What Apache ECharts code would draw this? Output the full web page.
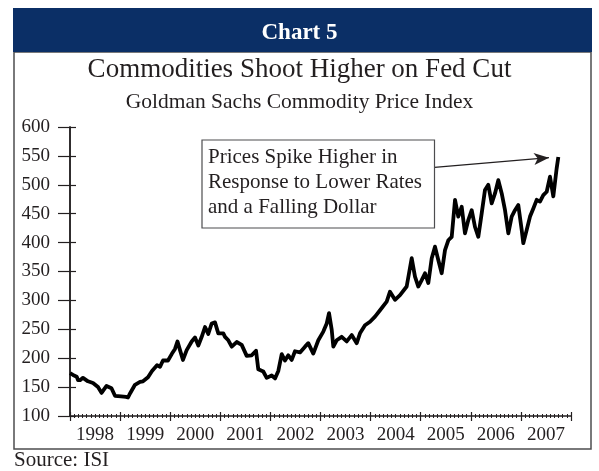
<!DOCTYPE html>
<html>
<head>
<meta charset="utf-8">
<script src="https://cdn.jsdelivr.net/npm/echarts@6/dist/echarts.min.js"></script>
<style>
  html, body { margin: 0; padding: 0; background: #fff; }
  #chart5 { width: 599px; height: 471px; }
</style>
</head>
<body>
<div id="chart5"></div>
<script>
// Goldman Sachs Commodity Price Index (decimal years)
var years = [
  1998.000, 1998.034, 1998.060, 1998.134, 1998.160, 1998.200, 1998.259, 1998.359, 1998.459, 1998.559,
  1998.629, 1998.729, 1998.828, 1998.898, 1998.924, 1999.018, 1999.118, 1999.158, 1999.198, 1999.297,
  1999.397, 1999.457, 1999.557, 1999.637, 1999.737, 1999.796, 1999.856, 1999.956, 2000.036, 2000.096,
  2000.146, 2000.196, 2000.255, 2000.329, 2000.429, 2000.495, 2000.561, 2000.629, 2000.695, 2000.760,
  2000.828, 2000.894, 2000.960, 2001.060, 2001.094, 2001.160, 2001.228, 2001.327, 2001.427, 2001.527,
  2001.627, 2001.713, 2001.758, 2001.858, 2001.926, 2002.026, 2002.092, 2002.158, 2002.226, 2002.291,
  2002.357, 2002.425, 2002.491, 2002.591, 2002.691, 2002.756, 2002.856, 2002.956, 2003.056, 2003.124,
  2003.170, 2003.224, 2003.256, 2003.323, 2003.423, 2003.523, 2003.623, 2003.723, 2003.788, 2003.888,
  2003.988, 2004.088, 2004.188, 2004.321, 2004.387, 2004.487, 2004.587, 2004.720, 2004.820, 2004.886,
  2004.952, 2005.020, 2005.086, 2005.152, 2005.220, 2005.285, 2005.351, 2005.419, 2005.485, 2005.551,
  2005.619, 2005.685, 2005.750, 2005.818, 2005.884, 2005.950, 2006.018, 2006.084, 2006.150, 2006.218,
  2006.283, 2006.349, 2006.417, 2006.483, 2006.549, 2006.617, 2006.683, 2006.749, 2006.816, 2006.882,
  2006.948, 2007.016, 2007.048, 2007.116, 2007.182, 2007.248, 2007.315, 2007.381, 2007.447, 2007.515,
  2007.581, 2007.647, 2007.713, 2007.747
];
var gsci = [
  174, 174, 171, 168, 162, 162, 166, 160, 157, 150,
  140, 152, 148, 135, 133, 134, 133, 132, 139, 154,
  159, 160, 167, 178, 188, 185, 196, 196, 208, 216,
  229, 214, 197, 214, 229, 236, 222, 237, 254, 242,
  260, 262, 243, 243, 237, 231, 220, 228, 223, 204,
  205, 213, 181, 177, 166, 170, 165, 178, 207, 196,
  205, 197, 212, 210, 220, 226, 208, 231, 246, 260,
  278, 249, 220, 231, 237, 229, 240, 226, 243, 257,
  263, 272, 283, 298, 315, 301, 309, 324, 373, 341,
  324, 335, 347, 330, 373, 393, 370, 347, 387, 404,
  410, 474, 445, 462, 416, 439, 456, 427, 410, 451,
  491, 500, 468, 485, 508, 485, 456, 416, 445, 456,
  465, 422, 399, 422, 445, 459, 474, 471, 482, 488,
  514, 480, 528, 548
];
var yearLabels = ['1998', '1999', '2000', '2001', '2002', '2003', '2004', '2005', '2006', '2007'];
var yTicks = [100, 600, 50]; // min, max, step

// annotation arrow, in data units
var arrowFrom = [2005.275, 530];
var arrowTo = [2007.56, 547];

var serif = '"Liberation Serif", "Times New Roman", serif';
var ink = '#231f20';

var chart = echarts.init(document.getElementById('chart5'));

var points = years.map(function (y, i) { return [y, gsci[i]]; });

// ticks cross the axis line, so each axis is drawn twice (outside + inside)
var valueX = function (inside, len, minorLen, showLine) {
  return {
    type: 'value', position: 'bottom', gridIndex: 0,
    min: 1998, max: 2008, interval: 1,
    axisLine: { show: showLine, onZero: false, lineStyle: { color: ink, width: 1.5 } },
    axisTick: { show: true, inside: inside, length: len, lineStyle: { color: ink, width: 1.2 } },
    minorTick: { show: true, splitNumber: 12, length: minorLen, lineStyle: { color: ink, width: 1 } },
    axisLabel: { show: false },
    splitLine: { show: false }
  };
};
var valueY = function (inside, len, showLabel) {
  return {
    type: 'value', position: 'left', gridIndex: 0,
    min: yTicks[0], max: yTicks[1], interval: yTicks[2],
    axisLine: { show: true, lineStyle: { color: ink, width: 1.5 } },
    axisTick: { show: true, inside: inside, length: len, lineStyle: { color: ink, width: 1.2 } },
    axisLabel: { show: showLabel, margin: 20, color: ink, fontFamily: serif, fontSize: 19 },
    splitLine: { show: false }
  };
};

chart.setOption({
  backgroundColor: '#fff',
  animation: false,
  title: [
    { text: 'Chart 5', left: 'center', top: 22, padding: 0,
      textStyle: { color: '#fff', fontFamily: serif, fontSize: 23, fontWeight: 'bold' } },
    { text: 'Commodities Shoot Higher on Fed Cut', left: 'center', top: 56, padding: 0,
      textStyle: { color: ink, fontFamily: serif, fontSize: 27, fontWeight: 'normal' } },
    { text: 'Goldman Sachs Commodity Price Index', left: 'center', top: 91, padding: 0,
      textStyle: { color: ink, fontFamily: serif, fontSize: 21.5, fontWeight: 'normal' } },
    { text: 'Source: ISI', left: 14, top: 450, padding: 0,
      textStyle: { color: ink, fontFamily: serif, fontSize: 21, fontWeight: 'normal' } }
  ],
  graphic: [
    { type: 'rect', z: -10, shape: { x: 14, y: 52, width: 577, height: 397 },
      style: { fill: '#fff', stroke: '#4d4d4f', lineWidth: 1.5 } },
    { type: 'rect', z: -9, shape: { x: 13, y: 8, width: 579, height: 44 },
      style: { fill: '#0b2f66' } },
    { type: 'rect', z: 10, shape: { x: 202, y: 140, width: 232.5, height: 88 },
      style: { fill: '#fff', stroke: '#4d4d4f', lineWidth: 1.2 } },
    { type: 'text', z: 11, x: 208, y: 145,
      style: { text: 'Prices Spike Higher in\nResponse to Lower Rates\nand a Falling Dollar',
        font: '21px ' + serif, fill: ink, lineHeight: 25 } }
  ],
  grid: { left: 70, right: 28, top: 127, bottom: 55, containLabel: false, outerBoundsMode: 'none' },
  xAxis: [
    valueX(false, 5, 2, true),
    valueX(true, 4, 2, false),
    {
      type: 'category', position: 'bottom', data: yearLabels, boundaryGap: true,
      axisLine: { show: false }, axisTick: { show: false }, splitLine: { show: false },
      axisLabel: { margin: 10, color: ink, fontFamily: serif, fontSize: 19 }
    }
  ],
  yAxis: [
    valueY(false, 12, true),
    valueY(true, 6, false)
  ],
  series: [{
    name: 'GSCI',
    type: 'line',
    xAxisIndex: 0,
    yAxisIndex: 0,
    data: points,
    showSymbol: false,
    symbol: 'none',
    lineStyle: { color: '#000', width: 3.8, join: 'round' },
    markLine: {
      silent: true,
      symbol: ['none', 'arrow'],
      symbolSize: [9, 15],
      label: { show: false },
      lineStyle: { color: ink, width: 1.2, type: 'solid' },
      data: [[{ coord: arrowFrom }, { coord: arrowTo }]]
    }
  }]
});
</script>
</body>
</html>
